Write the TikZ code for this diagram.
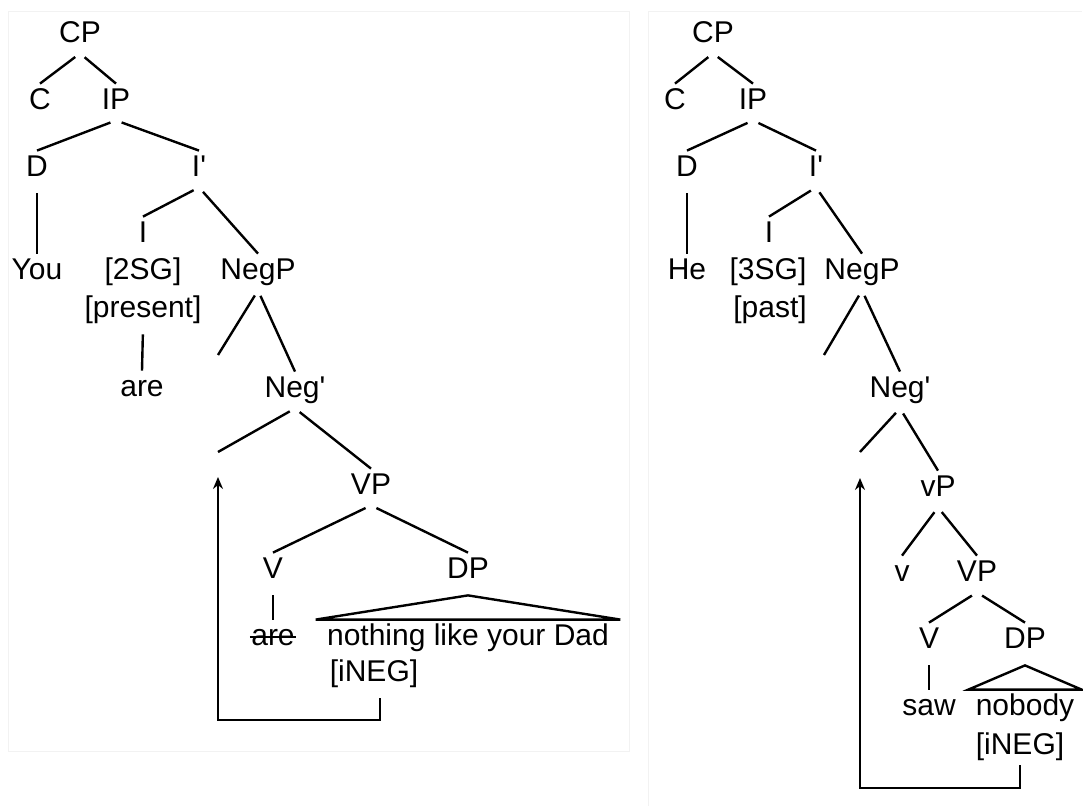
\documentclass[tikz,border=0pt]{standalone}
\usepackage{fontspec}
\setmainfont{Liberation Sans}[Ligatures=TeXOff]
\usetikzlibrary{arrows.meta}

\begin{document}
\begin{tikzpicture}[x=0.5pt,y=-0.5pt,
    lbl/.style={anchor=base, inner xsep=2pt, inner ysep=2pt, text height=11pt, text depth=3pt, font=\fontsize{15}{18}\selectfont},
    branch/.style={line width=1.2pt, shorten <=3pt},
    movement/.style={line width=1.2pt, -{Stealth[length=6pt,width=5pt]}},
    panel/.style={draw=black!5, line width=0.5pt}]
    \useasboundingbox (0,0) rectangle (1083,806);

    % Rahmen
    \draw[panel] (8,12) rectangle (629,752);
    \draw[panel] (648,806) -- (648,12) -- (1082,12);

    % linker Baum
    \node[lbl] (cpL) at (80,43) {CP};
    \node[lbl] (cL) at (40,110) {C};
    \node[lbl] (ipL) at (116,110) {IP};
    \node[lbl] (dL) at (37,177) {D};
    \node[lbl] (ibarL) at (199,177) {I'};
    \node[lbl] (iL) at (143,243) {I};
    \node[lbl] (sgL) at (143,280) {[2SG]};
    \node[lbl] (presL) at (143,318) {[present]};
    \node[lbl] (youL) at (37,280) {You};
    \node[lbl] (negpL) at (258,280) {NegP};
    \node[lbl] (areL) at (142,397) {are};
    \node[lbl] (negbarL) at (295,398) {Neg'};
    \node[lbl] (vpL) at (371,495) {VP};
    \node[lbl] (vL) at (273,579) {V};
    \node[lbl] (dpL) at (468,579) {DP};
    \node[lbl] (arestL) at (273,646) {are};
    \node[lbl, inner xsep=5.5pt] (dptxtL) at (468,646) {nothing like your Dad};
    \node[lbl] (inegL) at (374,682) {[iNEG]};
    \coordinate (specnegpL) at (218,355);
    \coordinate (specnegbarL) at (218,452);
    \coordinate (lowL) at (218,720);

    \draw[branch] (cpL.south) -- (cL.north);
    \draw[branch] (cpL.south) -- (ipL.north);
    \draw[branch] (ipL.south) -- (dL.north);
    \draw[branch] (ipL.south) -- (ibarL.north);
    \draw[branch] (dL.south) -- (youL.north);
    \draw[branch] (ibarL.south) -- (iL.north);
    \draw[branch] (ibarL.south) -- (negpL.north);
    \draw[branch] (presL.south) -- (areL.north);
    \draw[branch] (negpL.south) -- (specnegpL);
    \draw[branch] (negpL.south) -- (negbarL.north);
    \draw[branch] (negbarL.south) -- (specnegbarL);
    \draw[branch] (negbarL.south) -- (vpL.north);
    \draw[branch] (vpL.south) -- (vL.north);
    \draw[branch] (vpL.south) -- (dpL.north);
    \draw[branch] (vL.south) -- (arestL.north);
    \draw[line width=0.6pt] ([xshift=1.5pt,yshift=4.5pt]arestL.base west) -- ([xshift=-1.5pt,yshift=4.5pt]arestL.base east);
    \draw[line width=1.2pt] ([yshift=-3pt]dpL.south) -- (dptxtL.north west) -- (dptxtL.north east) -- cycle;
    \draw[movement] ([xshift=3pt,yshift=-3pt]inegL.south) |- (lowL) -- ([yshift=-12.5pt]specnegbarL);

    % rechter Baum
    \node[lbl] (cpR) at (713,43) {CP};
    \node[lbl] (cR) at (675,110) {C};
    \node[lbl] (ipR) at (753,110) {IP};
    \node[lbl] (dR) at (687,177) {D};
    \node[lbl] (ibarR) at (816,177) {I'};
    \node[lbl] (iR) at (769,243) {I};
    \node[lbl] (sgR) at (768,280) {[3SG]};
    \node[lbl] (pastR) at (770,318) {[past]};
    \node[lbl] (heR) at (687,280) {He};
    \node[lbl] (negpR) at (862,280) {NegP};
    \node[lbl] (negbarR) at (900,398) {Neg'};
    \node[lbl] (littlevpR) at (938,497) {vP};
    \node[lbl] (littlevR) at (902,582) {v};
    \node[lbl] (vpR) at (977,582) {VP};
    \node[lbl] (vR) at (929,649) {V};
    \node[lbl] (dpR) at (1025,649) {DP};
    \node[lbl] (sawR) at (929,716) {saw};
    \node[lbl, inner xsep=3.5pt] (dptxtR) at (1025,716) {nobody};
    \node[lbl] (inegR) at (1020,755) {[iNEG]};
    \coordinate (specnegpR) at (824,355);
    \coordinate (specnegbarR) at (860,452);
    \coordinate (lowR) at (860,788);

    \draw[branch] (cpR.south) -- (cR.north);
    \draw[branch] (cpR.south) -- (ipR.north);
    \draw[branch] (ipR.south) -- (dR.north);
    \draw[branch] (ipR.south) -- (ibarR.north);
    \draw[branch] (dR.south) -- (heR.north);
    \draw[branch] (ibarR.south) -- (iR.north);
    \draw[branch] (ibarR.south) -- (negpR.north);
    \draw[branch] (negpR.south) -- (specnegpR);
    \draw[branch] (negpR.south) -- (negbarR.north);
    \draw[branch] (negbarR.south) -- (specnegbarR);
    \draw[branch] (negbarR.south) -- (littlevpR.north);
    \draw[branch] (littlevpR.south) -- (littlevR.north);
    \draw[branch] (littlevpR.south) -- (vpR.north);
    \draw[branch] (vpR.south) -- (vR.north);
    \draw[branch] (vpR.south) -- (dpR.north);
    \draw[branch] (vR.south) -- (sawR.north);
    \draw[line width=1.2pt] ([yshift=-3pt]dpR.south) -- (dptxtR.north west) -- (dptxtR.north east) -- cycle;
    \draw[movement] (inegR.south) |- (lowR) -- ([yshift=-13pt]specnegbarR);
\end{tikzpicture}
\end{document}
